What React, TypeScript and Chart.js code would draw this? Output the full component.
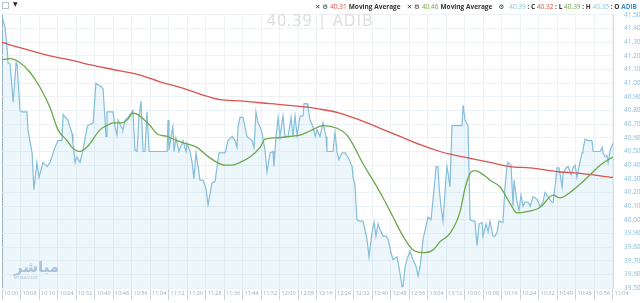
import React, { useEffect, useRef } from "react";
import { Chart, registerables } from "chart.js";

Chart.register(...registerables);

// ---- DATA ----
// minutes since session open (second session continues the axis after 13:19)
const priceMinutes = [
  0, 1.3, 2.2, 2.6, 3.5, 4.8, 6.1, 6.5, 7.8, 8.6,
  10.8, 11.2, 13, 13.8, 15.1, 16, 17.7, 19.5, 20.8, 22.1,
  22.9, 24.2, 25.9, 26.4, 28.5, 30.3, 30.7, 31.6, 32.4, 33.7,
  35, 36.8, 37.2, 39.4, 40.6, 42.4, 43.7, 45, 45.4, 48,
  48.9, 49.7, 50.2, 51.9, 52.3, 53.2, 54.5, 56.2, 56.6, 57.5,
  58.4, 59.2, 60.1, 61, 61.8, 62.7, 63.6, 71.4, 71.8, 72.2,
  73.1, 73.9, 74.4, 75.2, 76.5, 78.3, 79.6, 80, 81.3, 82.2,
  83, 83.9, 84.8, 85.6, 86.9, 88.2, 89.1, 90.8, 92.1, 93,
  93.8, 94.3, 96.5, 97.7, 99.5, 100.8, 101.6, 102.1, 102.9, 104.2,
  105.1, 105.9, 108.1, 109, 109.8, 110.7, 111.6, 112.4, 113.7, 114.6,
  115.9, 117.2, 117.6, 118.5, 119.4, 120.2, 121.5, 122.4, 123.7, 125,
  125.8, 126.7, 127.6, 128.9, 130.2, 130.6, 131.9, 132.3, 133.2, 134.5,
  135.4, 136.2, 137.5, 138.8, 140.1, 140.5, 143.1, 144, 144.9, 145.7,
  147, 148.3, 149.6, 151.4, 151.8, 152.6, 153.5, 154.8, 156.1, 157.8,
  158.7, 160, 160.9, 161.7, 162.6, 163.9, 164.8, 166.1, 166.9, 168.2,
  169.1, 170.8, 171.7, 173, 173.4, 174.3, 175.1, 176.4, 177.7, 179,
  179.9, 180.8, 182.1, 183.3, 184.2, 185.5, 186.4, 187.7, 188.5, 189,
  189.8, 190.7, 191.6, 192.4, 192.9, 193.7, 194.6, 198.9, 199.4, 200.2,
  201.5, 202.4, 203.7, 204.5, 205.4, 206.3, 207.6, 208, 209.3, 210.2,
  211, 212.3, 213.2, 214.1, 214.9, 216.6, 217.5, 218.4, 218.8, 220.1,
  221, 221.4, 222.7, 223.6, 224.4, 225.3, 226.2, 227.5, 228.4, 229.6,
  231.4, 232.6, 233.9, 234.8, 236.1, 237.8, 238.3, 239.1, 240, 240.9,
  242.2, 242.6, 243.9, 244.8, 246.1, 246.9, 247.8, 248.6, 249.5, 250.8,
  251.2, 252.1, 253.4, 255.1, 255.6, 257.3, 258.6, 259.5, 259.9, 260.8,
  261.6, 262.1, 263, 264.2,
];
const priceValues = [
  41.49, 41.41, 41.26, 41.15, 41.14, 40.86, 41.15, 41.14, 40.8, 40.79,
  40.79, 40.66, 40.49, 40.22, 40.42, 40.31, 40.42, 40.39, 40.42, 40.49,
  40.53, 40.58, 40.58, 40.77, 40.73, 40.63, 40.56, 40.42, 40.46, 40.42,
  40.51, 40.68, 40.69, 40.71, 41.0, 40.98, 40.96, 40.61, 40.79, 40.79,
  40.68, 40.62, 40.73, 40.67, 40.66, 40.73, 40.75, 40.79, 40.8, 40.51,
  40.5, 40.75, 40.87, 40.5, 40.5, 40.79, 40.5, 40.5, 40.73, 40.51,
  40.61, 40.68, 40.5, 40.6, 40.5, 40.58, 40.5, 40.56, 40.5, 40.42,
  40.3, 40.49, 40.39, 40.29, 40.29, 40.23, 40.11, 40.27, 40.28, 40.39,
  40.49, 40.49, 40.49, 40.58, 40.61, 40.58, 40.53, 40.68, 40.75, 40.75,
  40.68, 40.61, 40.58, 40.53, 40.79, 40.71, 40.68, 40.64, 40.51, 40.35,
  40.49, 40.5, 40.39, 40.61, 40.75, 40.61, 40.76, 40.61, 40.61, 40.75,
  40.61, 40.76, 40.62, 40.76, 40.76, 40.85, 40.85, 40.82, 40.73, 40.68,
  40.61, 40.66, 40.61, 40.71, 40.61, 40.5, 40.5, 40.64, 40.49, 40.44,
  40.49, 40.49, 40.46, 40.39, 40.31, 40.26, 40.0, 39.99, 39.99, 39.86,
  39.73, 39.91, 39.98, 39.88, 39.97, 39.91, 39.88, 39.88, 39.86, 39.76,
  39.71, 39.73, 39.65, 39.51, 39.51, 39.66, 39.71, 39.77, 39.71, 39.66,
  39.59, 39.66, 39.86, 39.95, 40.02, 40.0, 40.15, 40.39, 40.39, 40.24,
  40.1, 39.99, 40.22, 40.39, 40.34, 40.24, 40.69, 40.69, 40.84, 40.73,
  40.69, 40.0, 39.99, 39.99, 39.81, 39.97, 39.98, 39.88, 39.97, 39.91,
  39.99, 39.88, 39.88, 39.91, 39.99, 39.98, 40.24, 40.4, 40.42, 40.4,
  40.1, 40.29, 40.13, 40.07, 40.18, 40.1, 40.13, 40.13, 40.1, 40.17,
  40.15, 40.1, 40.13, 40.2, 40.17, 40.13, 40.13, 40.24, 40.38, 40.38,
  40.24, 40.34, 40.38, 40.39, 40.33, 40.38, 40.4, 40.31, 40.39, 40.49,
  40.51, 40.59, 40.58, 40.58, 40.5, 40.5, 40.5, 40.53, 40.49, 40.46,
  40.47, 40.42, 40.51, 40.56,
];

const slowMaMinutes = [
  0, 7.8, 20.8, 29.4, 39.4, 42.4, 51, 59.7, 68.3, 77,
  85.6, 94.3, 102.9, 115.9, 128.9, 137.5, 146.2, 154.8, 163.5, 172.1,
  180.8, 189.4, 193.7, 202.4, 211, 219.7, 228.3, 241.3, 249.9, 264.2,
];
const slowMaValues = [
  41.3, 41.26, 41.2, 41.17, 41.13, 41.12, 41.09, 41.06, 41.01, 40.97,
  40.92, 40.88, 40.87, 40.85, 40.83, 40.81, 40.78, 40.73, 40.67, 40.61,
  40.55, 40.5, 40.48, 40.45, 40.42, 40.39, 40.38, 40.35, 40.34, 40.31,
];

const fastMaMinutes = [
  0, 3.5, 7.8, 12.1, 16.4, 20.8, 24.2, 28.1, 30.3, 33.7,
  37.2, 42.4, 45.4, 48, 51.9, 54.1, 56.6, 58.8, 61, 64,
  67, 71.4, 75.7, 79.1, 84.3, 88.6, 93, 96.4, 99.5, 102.9,
  107.2, 111.6, 113.7, 118.1, 124.5, 128.9, 133.2, 138.8, 144.9, 149.2,
  151.8, 156.1, 160.4, 164.8, 169.1, 173.4, 177.7, 182.1, 186.4, 189.4,
  193.7, 198.1, 200.2, 202.4, 204.5, 208.9, 211, 215.4, 219.7, 222.7,
  227, 232.6, 238.3, 241.3, 245.6, 249.9, 254.3, 258.6, 264.2,
];
const fastMaValues = [
  41.17, 41.18, 41.15, 41.08, 40.97, 40.82, 40.66, 40.58, 40.53, 40.5,
  40.54, 40.66, 40.69, 40.71, 40.71, 40.73, 40.78, 40.77, 40.74, 40.69,
  40.63, 40.61, 40.58, 40.56, 40.53, 40.47, 40.42, 40.4, 40.4, 40.42,
  40.46, 40.53, 40.59, 40.6, 40.61, 40.62, 40.65, 40.69, 40.67, 40.62,
  40.55, 40.41, 40.29, 40.16, 40.02, 39.88, 39.78, 39.76, 39.78, 39.84,
  39.9, 40.06, 40.23, 40.34, 40.36, 40.32, 40.29, 40.24, 40.12, 40.05,
  40.06, 40.09, 40.18, 40.16, 40.2, 40.26, 40.33, 40.4, 40.46,
];

const tickMinutes = [
  0, 8, 16, 24, 32, 40, 48, 56, 64, 72, 80, 88, 96, 104, 112, 120, 128,
  136, 144, 152, 160, 168, 176, 184, 192, 200, 208, 216, 224, 232, 240,
  248, 256, 264,
];
const tickLabels = [
  "10:00", "10:08", "10:16", "10:24", "10:32", "10:40", "10:48", "10:56",
  "11:04", "11:12", "11:20", "11:28", "11:36", "11:44", "11:52", "12:00",
  "12:08", "12:16", "12:24", "12:32", "12:40", "12:48", "12:56", "13:04",
  "13:12", "10:00", "10:08", "10:16", "10:24", "10:32", "10:40", "10:48",
  "10:56", "11:04",
];
const priceTicks = [
  39.5, 39.6, 39.7, 39.8, 39.9, 40.0, 40.1, 40.2, 40.3, 40.4, 40.5,
  40.6, 40.7, 40.8, 40.9, 41.0, 41.1, 41.2, 41.3, 41.4, 41.5,
];

const toPoints = (xs: number[], ys: number[]) => xs.map((x, i) => ({ x, y: ys[i] }));

const FONT = '"Open Sans", "DejaVu Sans", sans-serif';

export default function App() {
  const ref = useRef<HTMLCanvasElement | null>(null);

  useEffect(() => {
    document.body.style.margin = "0";
    const canvas = ref.current;
    if (!canvas) return;
    const chart = new Chart(canvas, {
      type: "line",
      data: {
        datasets: [
          {
            label: "MA fast",
            data: toPoints(fastMaMinutes, fastMaValues),
            borderColor: "#6da84a",
            borderWidth: 1.3,
            pointRadius: 0,
            fill: false,
            cubicInterpolationMode: "monotone",
          },
          {
            label: "MA slow",
            data: toPoints(slowMaMinutes, slowMaValues),
            borderColor: "#d9534f",
            borderWidth: 1.3,
            pointRadius: 0,
            fill: false,
            cubicInterpolationMode: "monotone",
          },
          {
            label: "ADIB",
            data: toPoints(priceMinutes, priceValues),
            borderColor: "#84bedb",
            backgroundColor: "rgba(190, 222, 238, 0.28)",
            borderWidth: 1.2,
            pointRadius: 0,
            tension: 0,
            fill: "start",
          },
        ],
      },
      options: {
        animation: false,
        responsive: false,
        devicePixelRatio: 1,
        layout: { padding: { left: 2, top: 14, right: 0, bottom: 0 } },
        plugins: { legend: { display: false }, tooltip: { enabled: false } },
        scales: {
          x: {
            type: "linear",
            min: 0,
            max: 264.2,
            afterBuildTicks: (s: any) => {
              s.ticks = tickMinutes.map((v) => ({ value: v }));
            },
            afterFit: (s: any) => {
              s.height = 14;
            },
            ticks: {
              autoSkip: false,
              maxRotation: 0,
              align: "start",
              labelOffset: 2,
              padding: -10,
              color: "#98aebe",
              font: { size: 5.5, family: FONT },
              callback: (_v: any, i: number) => tickLabels[i],
            },
            grid: {
              color: (c: any) => (c.tick && c.tick.value === 0 ? "#86a0b0" : "#edf2f6"),
              tickColor: "#c9d5de",
              tickLength: 12,
              drawTicks: true,
            },
            border: { display: false },
          },
          y: {
            position: "right",
            min: 39.5,
            max: 41.5,
            afterBuildTicks: (s: any) => {
              s.ticks = priceTicks.map((v) => ({ value: v }));
            },
            afterFit: (s: any) => {
              s.width = 27;
            },
            ticks: {
              padding: 11,
              color: "#8cbfdc",
              font: { size: 6.5, family: FONT },
              callback: (v: any) => Number(v).toFixed(2),
            },
            grid: { color: "#edf2f6", drawTicks: false },
            border: { display: true, color: "#d6e2ea" },
          },
        },
      },
    } as any);
    return () => chart.destroy();
  }, []);

  const legendBold = { fontWeight: 700, color: "#333" };
  return (
    <div
      style={{
        position: "relative",
        width: 640,
        height: 303,
        background: "#fff",
        overflow: "hidden",
        fontFamily: FONT,
      }}
    >
      <canvas ref={ref} width={640} height={303} style={{ position: "absolute", left: 0, top: 0 }} />
      {/* top-left controls */}
      <div
        style={{
          position: "absolute",
          left: 2,
          top: 2,
          width: 5,
          height: 5,
          border: "1px solid #b8c4cc",
        }}
      />
      <div style={{ position: "absolute", left: 13, top: 0, fontSize: 6, color: "#222", lineHeight: "9px" }}>▼</div>
      {/* title */}
      <div
        style={{
          position: "absolute",
          left: 0,
          top: 10,
          width: 640,
          textAlign: "center",
          fontSize: 16,
          letterSpacing: 1,
          color: "#dcdcdc",
          lineHeight: "20px",
        }}
      >
        40.39 | ADIB
      </div>
      {/* legend */}
      <div
        style={{
          position: "absolute",
          right: 3,
          top: 2,
          fontSize: 6.5,
          lineHeight: "10px",
          whiteSpace: "nowrap",
          display: "flex",
          gap: 2,
          alignItems: "center",
        }}
      >
        <span style={legendBold}>✕</span>
        <span style={legendBold}>⚙</span>
        <span style={{ color: "#d9534f" }}>40.31</span>
        <span style={legendBold}>Moving Average</span>
        <span style={{ ...legendBold, marginLeft: 4 }}>✕</span>
        <span style={legendBold}>⚙</span>
        <span style={{ color: "#6da84a" }}>40.46</span>
        <span style={legendBold}>Moving Average</span>
        <span style={{ ...legendBold, marginLeft: 4 }}>⚙</span>
        <span style={{ marginLeft: 3 }}>
          <span style={{ color: "#8cc4e0" }}>40.39</span>
          <span style={legendBold}> : C </span>
          <span style={{ color: "#d9534f" }}>40.32</span>
          <span style={legendBold}> : L </span>
          <span style={{ color: "#6da84a" }}>40.39</span>
          <span style={legendBold}> : H </span>
          <span style={{ color: "#8cc4e0" }}>40.35</span>
          <span style={legendBold}> : O </span>
          <span style={{ color: "#3f8fc7", fontWeight: 700 }}>ADIB</span>
        </span>
      </div>
      {/* watermark */}
      <div style={{ position: "absolute", left: 14, top: 260, color: "#a8c3da", lineHeight: "1" }}>
        <div style={{ fontSize: 15, fontWeight: 700, fontFamily: '"DejaVu Sans", sans-serif' }} dir="rtl">
          مباشر
        </div>
        <div style={{ fontSize: 4, letterSpacing: 0.3, marginTop: 1 }}>MUBASHER</div>
      </div>
    </div>
  );
}
